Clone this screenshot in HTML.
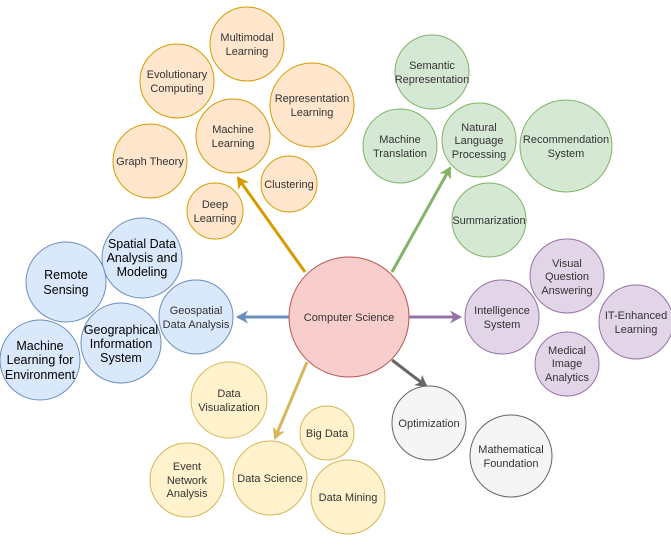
<!DOCTYPE html>
<html><head><meta charset="utf-8"><style>
html,body{margin:0;padding:0;background:#fff;}
svg{display:block;}
text{font-family:"Liberation Sans",Arial,sans-serif;font-size:11px;fill:#333;text-anchor:middle;}
.b{font-size:12.5px;fill:#000;}
</style></head><body>
<svg width="671" height="560" viewBox="0 0 671 560">
<defs>
<marker id="mo" markerWidth="14" markerHeight="14" refX="10" refY="6.5" orient="auto" markerUnits="userSpaceOnUse"><path d="M0,0 L12,6.5 L0,13 L3.5,6.5 z" fill="#d79b00"/></marker>
<marker id="mg" markerWidth="14" markerHeight="14" refX="10" refY="6.5" orient="auto" markerUnits="userSpaceOnUse"><path d="M0,0 L12,6.5 L0,13 L3.5,6.5 z" fill="#82b366"/></marker>
<marker id="mb" markerWidth="14" markerHeight="14" refX="10" refY="6.5" orient="auto" markerUnits="userSpaceOnUse"><path d="M0,0 L12,6.5 L0,13 L3.5,6.5 z" fill="#6c8ebf"/></marker>
<marker id="mp" markerWidth="14" markerHeight="14" refX="10" refY="6.5" orient="auto" markerUnits="userSpaceOnUse"><path d="M0,0 L12,6.5 L0,13 L3.5,6.5 z" fill="#9673a6"/></marker>
<marker id="mk" markerWidth="14" markerHeight="14" refX="10" refY="6.5" orient="auto" markerUnits="userSpaceOnUse"><path d="M0,0 L12,6.5 L0,13 L3.5,6.5 z" fill="#666"/></marker>
<marker id="my" markerWidth="14" markerHeight="14" refX="10" refY="6.5" orient="auto" markerUnits="userSpaceOnUse"><path d="M0,0 L12,6.5 L0,13 L3.5,6.5 z" fill="#d6b656"/></marker>
</defs>
<g stroke-width="3" fill="none">
<line x1="305" y1="272" x2="238" y2="178" stroke="#d79b00" marker-end="url(#mo)"/>
<line x1="392" y1="272" x2="450" y2="168" stroke="#82b366" marker-end="url(#mg)"/>
<line x1="289" y1="317" x2="238" y2="317" stroke="#6c8ebf" marker-end="url(#mb)"/>
<line x1="409" y1="317" x2="460" y2="317" stroke="#9673a6" marker-end="url(#mp)"/>
<line x1="392" y1="360" x2="426" y2="386" stroke="#666" marker-end="url(#mk)"/>
<line x1="307" y1="362" x2="275" y2="438" stroke="#d6b656" marker-end="url(#my)"/>
</g>
<g stroke="#d79b00" fill="#ffe6cc" stroke-width="1">
<circle cx="247" cy="44" r="37"/><circle cx="177" cy="81" r="37"/><circle cx="312" cy="105" r="42"/>
<circle cx="233" cy="136" r="37"/><circle cx="150" cy="161" r="37"/><circle cx="289" cy="184" r="28"/><circle cx="215" cy="211" r="28"/>
</g>
<g stroke="#6c8ebf" fill="#dae8fc">
<circle cx="142" cy="258" r="40"/><circle cx="66" cy="282" r="40"/><circle cx="196" cy="317" r="37"/>
<circle cx="121" cy="343" r="40"/><circle cx="40" cy="360" r="40"/>
</g>
<circle cx="349" cy="317" r="60" fill="#f8cecc" stroke="#b85450"/>
<g stroke="#82b366" fill="#d5e8d4">
<circle cx="432" cy="72" r="37"/><circle cx="400" cy="146" r="37"/><circle cx="479" cy="140" r="37"/>
<circle cx="566" cy="146" r="46"/><circle cx="489" cy="220" r="37"/>
</g>
<g stroke="#9673a6" fill="#e1d5e7">
<circle cx="567" cy="276" r="37"/><circle cx="502" cy="317" r="37"/><circle cx="636" cy="322" r="37"/><circle cx="567" cy="364" r="32"/>
</g>
<g stroke="#666" fill="#f5f5f5">
<circle cx="429" cy="423" r="37"/><circle cx="511" cy="456" r="41"/>
</g>
<g stroke="#d6b656" fill="#fff2cc">
<circle cx="229" cy="400" r="38"/><circle cx="327" cy="433" r="27"/><circle cx="270" cy="478" r="37"/>
<circle cx="187" cy="480" r="37"/><circle cx="348" cy="497" r="37"/>
</g>
<text x="247" y="41">Multimodal</text><text x="247" y="55">Learning</text>
<text x="177" y="78">Evolutionary</text><text x="177" y="92">Computing</text>
<text x="312" y="102">Representation</text><text x="312" y="116">Learning</text>
<text x="233" y="133">Machine</text><text x="233" y="147">Learning</text>
<text x="150" y="165">Graph Theory</text>
<text x="289" y="188">Clustering</text>
<text x="215" y="208">Deep</text><text x="215" y="222">Learning</text>
<text class="b" x="142" y="248">Spatial Data</text><text class="b" x="142" y="262">Analysis and</text><text class="b" x="142" y="276">Modeling</text>
<text class="b" x="66" y="279">Remote</text><text class="b" x="66" y="294">Sensing</text>
<text x="196" y="314">Geospatial</text><text x="196" y="328">Data Analysis</text>
<text class="b" x="121" y="334">Geographical</text><text class="b" x="121" y="348">Information</text><text class="b" x="121" y="362">System</text>
<text class="b" x="40" y="350">Machine</text><text class="b" x="40" y="364">Learning for</text><text class="b" x="40" y="379">Environment</text>
<text x="349" y="321">Computer Science</text>
<text x="432" y="69">Semantic</text><text x="432" y="83">Representation</text>
<text x="400" y="143">Machine</text><text x="400" y="157">Translation</text>
<text x="479" y="131">Natural</text><text x="479" y="144">Language</text><text x="479" y="158">Processing</text>
<text x="566" y="143">Recommendation</text><text x="566" y="157">System</text>
<text x="489" y="224">Summarization</text>
<text x="567" y="267">Visual</text><text x="567" y="280">Question</text><text x="567" y="294">Answering</text>
<text x="502" y="314">Intelligence</text><text x="502" y="328">System</text>
<text x="636" y="319">IT-Enhanced</text><text x="636" y="333">Learning</text>
<text x="567" y="354">Medical</text><text x="567" y="367">Image</text><text x="567" y="381">Analytics</text>
<text x="429" y="427">Optimization</text>
<text x="511" y="453">Mathematical</text><text x="511" y="467">Foundation</text>
<text x="229" y="397">Data</text><text x="229" y="411">Visualization</text>
<text x="327" y="437">Big Data</text>
<text x="270" y="482">Data Science</text>
<text x="187" y="470">Event</text><text x="187" y="484">Network</text><text x="187" y="497">Analysis</text>
<text x="348" y="501">Data Mining</text>
</svg>
</body></html>
